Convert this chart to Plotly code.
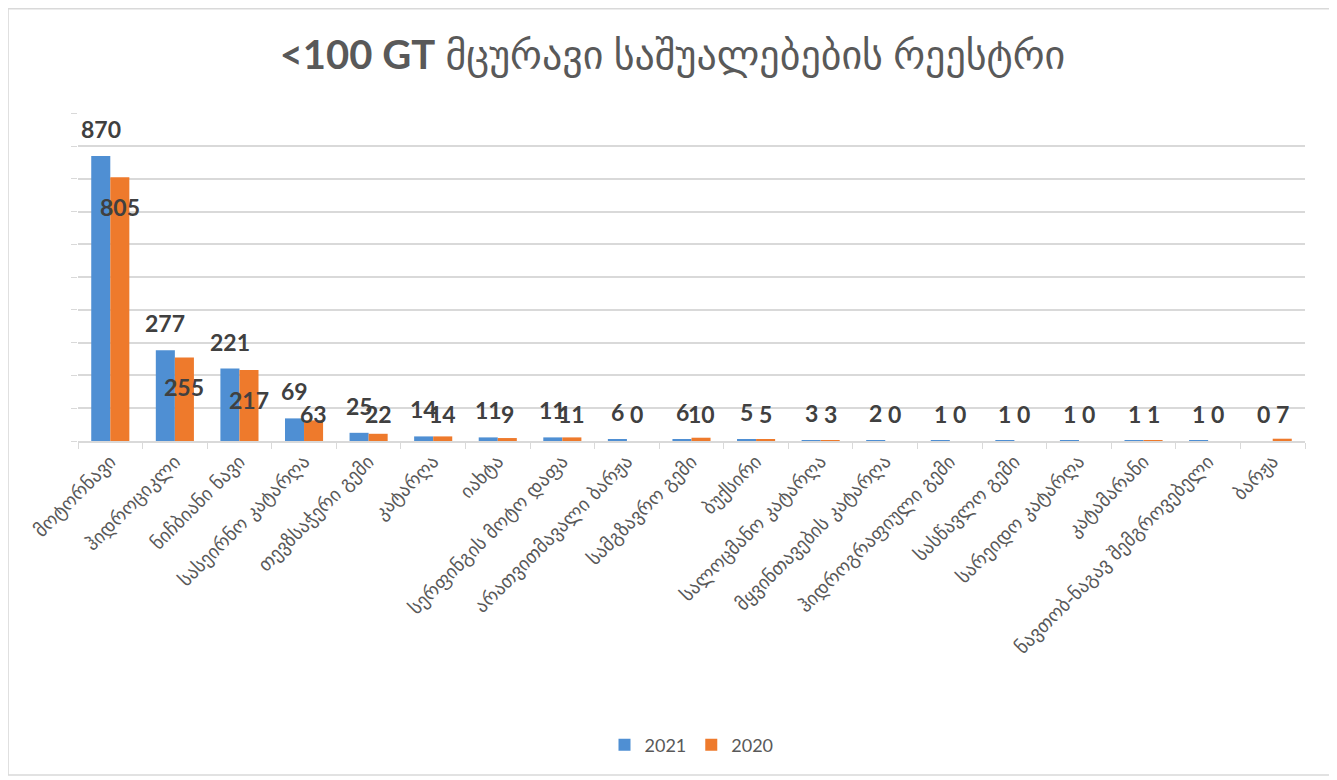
import plotly.graph_objects as go

categories = [
    "მოტორნავი",
    "ჰიდროციკლი",
    "ნიჩბიანი ნავი",
    "სასეირნო კატარღა",
    "თევზსაჭერი გემი",
    "კატარღა",
    "იახტა",
    "სერფინგის მოტო დაფა",
    "არათვითმავალი ბარჟა",
    "სამგზავრო გემი",
    "ბუქსირი",
    "სალოცმანო კატარღა",
    "მყვინთავების კატარღა",
    "ჰიდროგრაფიული გემი",
    "სასწავლო გემი",
    "სარეიდო კატარღა",
    "კატამარანი",
    "ნავთობ-ნაგავ შემგროვებელი",
    "ბარჟა",
]
values_2021 = [870, 277, 221, 69, 25, 14, 11, 11, 6, 6, 5, 3, 2, 1, 1, 1, 1, 1, 0]
values_2020 = [805, 255, 217, 63, 22, 14, 9, 11, 0, 10, 5, 3, 0, 0, 0, 0, 1, 0, 7]

BLUE = "#4f8fd3"
ORANGE = "#ee7a2c"
GREY = "#595959"
LABEL_FONT = dict(family="Lato, DejaVu Sans", size=23, color="#404040")

fig = go.Figure()
fig.add_trace(go.Bar(name="2021", x=categories, y=values_2021, marker=dict(color=BLUE, line_width=0)))
fig.add_trace(go.Bar(name="2020", x=categories, y=values_2020, marker=dict(color=ORANGE, line_width=0)))

# data labels: 2021 above its bar, 2020 tucked into the top of its bar
annotations = []
for cat, v in zip(categories, values_2021):
    annotations.append(dict(x=cat, y=v, text=f"<b>{v}</b>", showarrow=False, xshift=-9.5, yshift=27,
                            yanchor="middle", font=LABEL_FONT))
for cat, v in zip(categories, values_2020):
    annotations.append(dict(x=cat, y=max(v - 91, 82), text=f"<b>{v}</b>", showarrow=False, xshift=9.5,
                            yanchor="middle", font=LABEL_FONT))

# the page body adds an 8px offset, so the figure is 8px smaller than the window
fig.update_layout(
    width=1329,
    height=772,
    margin=dict(l=70, r=32, t=105, b=339),
    paper_bgcolor="white",
    plot_bgcolor="white",
    barmode="group",
    bargap=0.41,
    bargroupgap=0,
    title=dict(
        text="<b>&lt;100 GT</b> მცურავი საშუალებების რეესტრი",
        x=0.5,
        xanchor="center",
        y=0.939,
        yanchor="middle",
        font=dict(family="Lato, DejaVu Sans", size=40, color=GREY),
    ),
    xaxis=dict(
        tickangle=-45,
        tickson="boundaries",
        ticks="outside",
        ticklen=6,
        tickcolor="#d9d9d9",
        showline=True,
        linecolor="#d9d9d9",
        linewidth=2,
        tickfont=dict(family="DejaVu Sans", size=19, color=GREY),
        showgrid=False,
    ),
    yaxis=dict(
        range=[0, 1001],
        dtick=100,
        showticklabels=False,
        ticks="outside",
        ticklen=6,
        tickcolor="#d9d9d9",
        showgrid=True,
        gridcolor="#d9d9d9",
        gridwidth=2,
        zeroline=False,
    ),
    legend=dict(
        orientation="h",
        x=0.5,
        xanchor="center",
        y=-0.927,
        yanchor="middle",
        font=dict(family="Lato, DejaVu Sans", size=18, color=GREY),
    ),
    annotations=annotations,
    shapes=[
        dict(type="rect", xref="paper", yref="paper", x0=-0.057, x1=1.0204, y0=-1.018, y1=1.318,
             line=dict(color="#d9d9d9", width=1.5), fillcolor="rgba(0,0,0,0)", layer="below"),
    ],
)

fig.write_html("out.html")
